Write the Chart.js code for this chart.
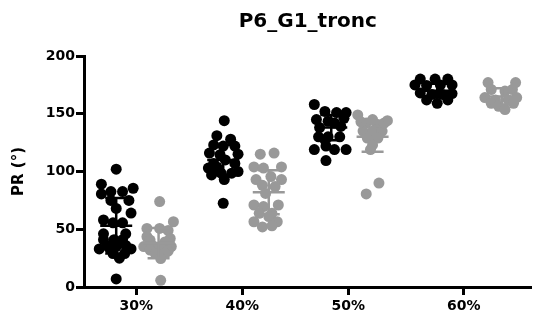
<!DOCTYPE html>
<html>
<head>
<meta charset="utf-8">
<script src="https://cdn.jsdelivr.net/npm/chart.js@4.4.0/dist/chart.umd.min.js"></script>
<style>
  html, body { margin: 0; padding: 0; background: #fff; }
</style>
</head>
<body>
<canvas id="chart" width="537" height="320"></canvas>
<script>
const categories = ["30%", "40%", "50%", "60%"];
const categoryPos = [1, 2, 3, 4.09];
const yTicks = [0, 50, 100, 150, 200];

// each point: [horizontal jitter from its group centre, PR value]
const black30 = [[0, 102], [-0.14, 89], [-0.14, 80.6], [-0.05, 82.6], [0.06, 82.6], [0.16, 85.5],
  [-0.05, 75], [0.12, 75], [0, 68], [0.14, 64], [-0.12, 58], [-0.03, 55.6], [0.06, 55.6],
  [-0.12, 46], [0.09, 46], [-0.12, 41], [-0.02, 41], [0.06, 41], [-0.09, 36], [0.09, 36],
  [-0.16, 33], [-0.06, 33], [0, 35], [0.14, 33], [-0.03, 29], [0.08, 29], [0.03, 25], [0, 7]];
const black40 = [[0.01, 144], [-0.06, 131], [0.07, 128], [-0.09, 123], [0, 122], [0.11, 122],
  [-0.13, 116], [-0.03, 114.5], [0.14, 115], [-0.09, 107], [0.02, 110], [0.11, 107],
  [-0.14, 103], [-0.06, 104], [0.14, 100], [-0.11, 97], [-0.02, 98.5], [0.08, 98.5],
  [0.01, 93], [0, 72.5]];
const black50 = [[-0.16, 158], [-0.06, 152], [0.05, 151], [0.14, 151], [-0.14, 145],
  [-0.03, 143.5], [0.12, 146], [0.03, 142], [-0.11, 138], [0.09, 139], [-0.12, 130],
  [-0.03, 130], [0.08, 130], [-0.06, 127.5], [-0.05, 122], [-0.16, 119], [0.03, 119],
  [0.14, 119], [-0.05, 109.5]];
const black60 = [[-0.16, 180], [-0.02, 180], [0.10, 180], [-0.21, 175], [-0.10, 174.5],
  [0.03, 175], [0.14, 175], [-0.16, 168], [-0.05, 166.7], [0.05, 166.7], [0.14, 167.5],
  [-0.10, 162], [0, 159], [0.10, 162]];

const gray30 = [[0.01, 74], [-0.11, 50.7], [0.01, 50.7], [0.09, 49], [0.14, 56.5],
  [-0.11, 43.5], [0.11, 42], [-0.08, 40.6], [0.06, 39], [-0.14, 35], [-0.06, 36],
  [0.02, 35], [0.12, 35], [-0.08, 32], [0.09, 31], [-0.03, 29], [0.06, 29], [0.02, 24.6],
  [0.02, 5.8]];
const gray40 = [[-0.08, 115], [0.05, 116], [-0.14, 104], [-0.05, 103], [0.12, 104],
  [-0.12, 93], [0.02, 95.6], [0.12, 93], [-0.06, 88], [0.06, 87], [-0.03, 81],
  [-0.14, 71], [-0.05, 69.6], [0.09, 71], [-0.09, 63.8], [0.03, 63.8], [0, 61],
  [-0.14, 56.5], [0.08, 56.5], [-0.06, 52], [0.03, 53]];
const gray50 = [[-0.14, 149], [0.14, 144], [-0.06, 142], [0.05, 140.6], [-0.09, 135],
  [0, 135], [0.09, 135], [-0.05, 129], [0.05, 129], [0, 123], [-0.02, 119], [0, 145],
  [0.11, 142], [-0.11, 143], [0.06, 90], [-0.06, 80.6]];
const gray60 = [[-0.13, 177], [0.13, 177], [-0.10, 171], [0.03, 169.6], [0.10, 171],
  [-0.16, 164], [0.14, 164], [-0.06, 162], [0.06, 162], [-0.10, 159], [0.11, 159],
  [-0.03, 156.5], [0.03, 153.6]];

// group centres relative to the category tick, mean and SD
const blackShift = [-0.19, -0.18, -0.16, -0.25];
const grayShift = [0.21, 0.25, 0.23, 0.36];
const blackMean = [53, 110, 138, 170];
const blackSd = [24, 13, 11, 6];
const grayMean = [38, 82, 130, 165];
const graySd = [13, 19, 13, 7];

const BLACK = "#000000";
const GRAY = "#999999";
const FONT = "'DejaVu Sans', sans-serif";

function toPoints(groups, shift) {
  const pts = [];
  groups.forEach((g, i) => {
    g.forEach(p => pts.push({ x: categoryPos[i] + shift[i] + p[0], y: p[1] }));
  });
  return pts;
}

const series = [
  { mean: blackMean, sd: blackSd, shift: blackShift, color: BLACK },
  { mean: grayMean, sd: graySd, shift: grayShift, color: GRAY }
];

// mean line and SD whiskers like in Prism
const errorBars = {
  id: "errorBars",
  afterDatasetsDraw(chart) {
    const { ctx, scales: { x, y } } = chart;
    ctx.save();
    ctx.lineWidth = 2.5;
    series.forEach(s => {
      ctx.strokeStyle = s.color;
      s.mean.forEach((m, i) => {
        const cx = x.getPixelForValue(categoryPos[i] + s.shift[i]);
        const top = y.getPixelForValue(m + s.sd[i]);
        const bot = y.getPixelForValue(m - s.sd[i]);
        const mid = y.getPixelForValue(m);
        ctx.beginPath();
        ctx.moveTo(cx, top); ctx.lineTo(cx, bot);
        ctx.moveTo(cx - 11, top); ctx.lineTo(cx + 11, top);
        ctx.moveTo(cx - 11, bot); ctx.lineTo(cx + 11, bot);
        ctx.moveTo(cx - 16, mid); ctx.lineTo(cx + 16, mid);
        ctx.stroke();
      });
    });
    ctx.restore();
  }
};

new Chart(document.getElementById("chart"), {
  type: "scatter",
  data: {
    datasets: [
      {
        data: toPoints([black30, black40, black50, black60], blackShift),
        backgroundColor: BLACK,
        pointRadius: 5.5,
        pointBorderWidth: 0
      },
      {
        data: toPoints([gray30, gray40, gray50, gray60], grayShift),
        backgroundColor: GRAY,
        pointRadius: 5.5,
        pointBorderWidth: 0
      }
    ]
  },
  options: {
    responsive: false,
    animation: false,
    devicePixelRatio: 1,
    layout: { padding: 0 },
    plugins: {
      legend: { display: false },
      tooltip: { enabled: false },
      title: {
        display: true,
        text: "P6_G1_tronc",
        fullSize: false,
        color: "#000",
        font: { family: FONT, size: 20, weight: "bold" },
        padding: { top: 10, bottom: 22 }
      }
    },
    scales: {
      x: {
        type: "linear",
        min: 0.506,
        max: 4.730,
        afterBuildTicks: axis => {
          axis.ticks = categoryPos.map(v => ({ value: v }));
        },
        afterFit: scale => { scale.height = 33; },
        border: { display: true, color: "#000", width: 3 },
        grid: { drawOnChartArea: false, drawTicks: true, tickLength: 8, tickWidth: 3, tickColor: "#000" },
        ticks: {
          autoSkip: false,
          maxRotation: 0,
          padding: 3,
          color: "#000",
          font: { family: FONT, size: 14, weight: "bold" },
          callback: value => categories[categoryPos.indexOf(value)]
        }
      },
      y: {
        min: 0,
        max: 200,
        afterBuildTicks: axis => {
          axis.ticks = yTicks.map(v => ({ value: v }));
        },
        afterFit: scale => { scale.width = 84; },
        border: { display: true, color: "#000", width: 3 },
        grid: { drawOnChartArea: false, drawTicks: true, tickLength: 8, tickWidth: 3, tickColor: "#000" },
        ticks: {
          padding: 1,
          color: "#000",
          font: { family: FONT, size: 14, weight: "bold" }
        },
        title: {
          display: true,
          text: "PR (°)",
          color: "#000",
          padding: { top: 10, bottom: 0 },
          font: { family: FONT, size: 15, weight: "bold" }
        }
      }
    }
  },
  plugins: [errorBars]
});
</script>
</body>
</html>
